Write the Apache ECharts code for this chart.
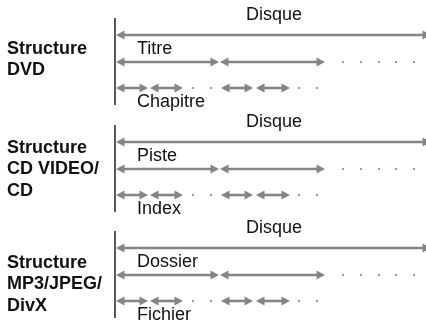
<!DOCTYPE html>
<html>
<head>
<meta charset="utf-8">
<script src="https://cdn.jsdelivr.net/npm/echarts@6/dist/echarts.min.js"></script>
<style>
html,body{margin:0;padding:0;background:#fff;}
#chart{width:426px;height:325px;}
</style>
</head>
<body>
<div id="chart"></div>
<script>
// ---- data ----
const structureLabels = [['Structure', 'DVD'], ['Structure', 'CD VIDEO/', 'CD'], ['Structure', 'MP3/JPEG/', 'DivX']];
const topLevelName = 'Disque';
const level2Names = ['Titre', 'Piste', 'Dossier'];
const level3Names = ['Chapitre', 'Index', 'Fichier'];
const blockTops = [18, 125, 231];          // y where each block's vertical bar starts
const labelStarts = [31, 23, 32];          // first label line, relative to block top
const discSpan = [1, 316];
const level2Spans = [[1, 104], [105, 210]];
const level2Dots = [228, 246, 264, 281, 299];
const level3Spans = [[1, 33], [35, 68], [106, 138], [141, 175]];
const level3Dots = [78, 96, 184, 202];

const chart = echarts.init(document.getElementById('chart'), null, { renderer: 'canvas' });
const GRAY = '#858585';
const FONT = '18px "Liberation Sans", Arial, Helvetica, sans-serif';
const BOLD = 'bold 18px "Liberation Sans", Arial, Helvetica, sans-serif';

function arrow(children, api, a, b, y, leftHead, rightHead) {
  const p1 = api.coord([a, y]);
  const p2 = api.coord([b, y]);
  const hl = 7.5, hw = 4.5;
  const x1 = leftHead ? p1[0] + hl : p1[0];
  const x2 = rightHead ? p2[0] - hl : p2[0];
  children.push({ type: 'line', shape: { x1: x1, y1: p1[1], x2: x2, y2: p2[1] },
    style: { stroke: GRAY, lineWidth: 2.6 } });
  if (leftHead) children.push({ type: 'polygon',
    shape: { points: [[p1[0], p1[1]], [p1[0] + hl + 1, p1[1] - hw], [p1[0] + hl + 1, p1[1] + hw]] },
    style: { fill: GRAY } });
  if (rightHead) children.push({ type: 'polygon',
    shape: { points: [[p2[0], p2[1]], [p2[0] - hl - 1, p2[1] - hw], [p2[0] - hl - 1, p2[1] + hw]] },
    style: { fill: GRAY } });
}
function text(children, api, str, x, y, align, font) {
  const p = api.coord([x, y]);
  children.push({ type: 'text', style: { text: str, x: p[0], y: p[1], fill: '#111', font: font,
    align: align, verticalAlign: 'middle' } });
}

chart.setOption({
  animation: false,
  grid: { left: 0, right: 0, top: 0, bottom: 0 },
  xAxis: { type: 'value', min: -115, max: 311, show: false },
  yAxis: { type: 'value', min: 0, max: 325, inverse: true, show: false },
  series: [{
    type: 'custom',
    clip: false,
    data: blockTops.map((t, i) => [i, t]),
    renderItem: function (params, api) {
      const i = api.value(0);
      const top = api.value(1);
      const ch = [];
      // vertical bar
      const v1 = api.coord([0, top]), v2 = api.coord([0, top + 87]);
      ch.push({ type: 'line', shape: { x1: v1[0], y1: v1[1], x2: v2[0], y2: v2[1] },
        style: { stroke: '#222', lineWidth: 1.5 } });
      // left labels
      structureLabels[i].forEach((s, k) => text(ch, api, s, -108, top + labelStarts[i] + k * 21.5, 'left', BOLD));
      // disc
      text(ch, api, topLevelName, 159, top - 3, 'center', FONT);
      arrow(ch, api, discSpan[0], discSpan[1], top + 17, true, true);
      // level 2
      text(ch, api, level2Names[i], 22, top + 31, 'left', FONT);
      level2Spans.forEach(s => arrow(ch, api, s[0], s[1], top + 44, true, true));
      level2Dots.forEach(d => { const p = api.coord([d, top + 44]);
        ch.push({ type: 'circle', shape: { cx: p[0], cy: p[1], r: 1.1 }, style: { fill: GRAY } }); });
      // level 3
      level3Spans.forEach(s => arrow(ch, api, s[0], s[1], top + 70, true, true));
      level3Dots.forEach(d => { const p = api.coord([d, top + 70]);
        ch.push({ type: 'circle', shape: { cx: p[0], cy: p[1], r: 1.1 }, style: { fill: GRAY } }); });
      text(ch, api, level3Names[i], 22, top + 84, 'left', FONT);
      return { type: 'group', children: ch };
    }
  }]
});
</script>
</body>
</html>
